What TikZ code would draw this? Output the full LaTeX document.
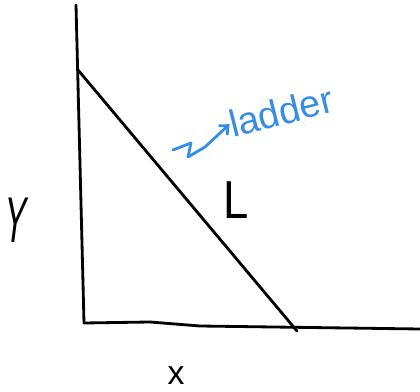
\documentclass[tikz,border=0pt]{standalone}
\usepackage{fontspec}
\setmainfont{Liberation Sans}
\usetikzlibrary{arrows.meta}
\definecolor{sketchblue}{RGB}{55,140,230}

\begin{document}
\begin{tikzpicture}[
    % Stil a kezzel rajzolt vonalakhoz
    sketch/.style={line width=2pt, line cap=round, line join=round},
    label text/.style={font=\fontsize{#1}{#1}\selectfont, inner sep=0pt}
,x=0.025cm, y=-0.025cm]

    \useasboundingbox (0,0) rectangle (420,392);

    % Fal, talaj es letra vegpontjai
    \coordinate (WallTop) at (76, 5);
    \coordinate (Corner) at (84, 323);
    \coordinate (GroundEnd) at (420, 329);
    \coordinate (LadderTop) at (78, 70);
    \coordinate (LadderFoot) at (297, 331);

    % Fal es talaj
    \draw[sketch] (WallTop) -- (Corner);
    \draw[sketch] (Corner) -- (150, 322) -- (200, 326) -- (GroundEnd);

    % Letra
    \draw[sketch] (LadderTop) -- (LadderFoot);

    % Feliratok
    \node[label text=46pt, xscale=0.5, xslant=0.25] (Ylabel) at (16, 220) {Y};
    \node[label text=24pt] (Xlabel) at (176, 376) {x};
    \node[label text=38pt, xscale=0.85] (Llabel) at (236, 200) {L};

    % Kek megjegyzes: ladder
    \node[label text=27pt, text=sketchblue, rotate=14, anchor=south west] (Ladder) at (233, 138) {ladder};
    \coordinate (ArrowStart) at (173, 150);
    \draw[sketch, sketchblue, -{Straight Barb[length=5pt,width=9pt]}]
        (ArrowStart) -- (191, 143) -- (188, 157) -- (205, 147) -- (Ladder.west);
\end{tikzpicture}
\end{document}
